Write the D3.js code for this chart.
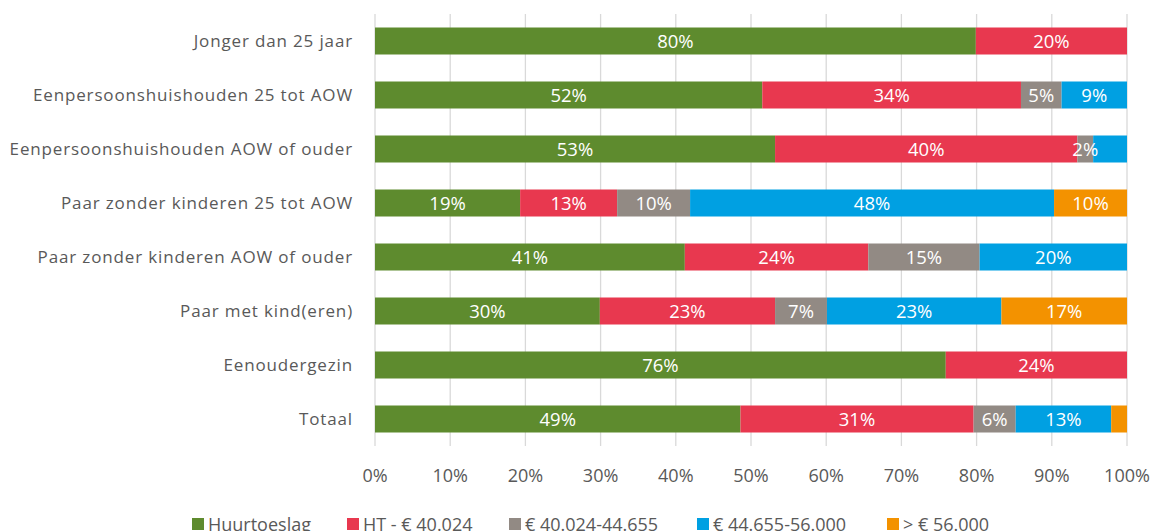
<!DOCTYPE html>
<html>
<head>
<meta charset="utf-8">
<script src="https://cdn.jsdelivr.net/npm/d3@7"></script>
<style>
  body { margin: 0; background: #fff; }
  text { font-family: "Open Sans", sans-serif; }
</style>
</head>
<body>
<div id="chart"></div>
<script>
"use strict";

// categories, top to bottom
var categories = [
  "Jonger dan 25 jaar",
  "Eenpersoonshuishouden 25 tot AOW",
  "Eenpersoonshuishouden AOW of ouder",
  "Paar zonder kinderen 25 tot AOW",
  "Paar zonder kinderen AOW of ouder",
  "Paar met kind(eren)",
  "Eenoudergezin",
  "Totaal"
];

// series names (legend)
var seriesNames = ["Huurtoeslag", "HT - \u20ac 40.024", "\u20ac 40.024-44.655", "\u20ac 44.655-56.000", "> \u20ac 56.000"];
var seriesColors = ["#5e8b2e", "#e8384f", "#928a84", "#00a0e2", "#f39200"];

// values per series in percent, one per category
var huurtoeslag = [79.9, 51.5, 53.2, 19.3, 41.2, 29.9, 75.9, 48.6];
var htTot40024  = [20.1, 34.4, 40.2, 12.9, 24.4, 23.3, 24.1, 31.0];
var tot44655    = [0,     5.4,  2.1,  9.7, 14.8,  6.9,  0,    5.6];
var tot56000    = [0,     8.7,  4.5, 48.4, 19.6, 23.2,  0,   12.7];
var boven56000  = [0,     0,    0,    9.7,  0,   16.7,  0,    2.1];

// segments whose label is not shown in the original: [category index, series index]
var hiddenLabels = [[2, 3], [7, 4]];

var xTicks = [0, 10, 20, 30, 40, 50, 60, 70, 80, 90, 100];

var width = 1151, height = 531;
var margin = { left: 375, right: 24, top: 14, bottom: 85 };

var svg = d3.select("#chart").append("svg")
  .attr("width", width)
  .attr("height", height);

var x = d3.scaleLinear().domain([0, 100]).range([margin.left, width - margin.right]);
var y = d3.scaleBand().domain(categories).range([margin.top, height - margin.bottom]).paddingInner(0.5).paddingOuter(0.25);

// gridlines
svg.append("g")
  .selectAll("line")
  .data(xTicks)
  .enter()
  .append("line")
  .attr("x1", function (d) { return x(d); })
  .attr("x2", function (d) { return x(d); })
  .attr("y1", margin.top)
  .attr("y2", height - margin.bottom)
  .attr("stroke", "#d9d9d9")
  .attr("stroke-width", 1.3);

// x tick labels
svg.append("g")
  .selectAll("text")
  .data(xTicks)
  .enter()
  .append("text")
  .attr("x", function (d) { return x(d); })
  .attr("y", height - margin.bottom + 36)
  .attr("text-anchor", "middle")
  .attr("font-size", 18)
  .attr("fill", "#595959")
  .text(function (d) { return d + "%"; });

// build stacked rows
var seriesValues = [huurtoeslag, htTot40024, tot44655, tot56000, boven56000];
var rows = categories.map(function (c, i) {
  var row = { category: c };
  seriesNames.forEach(function (s, j) { row[s] = seriesValues[j][i]; });
  return row;
});
var stack = d3.stack().keys(seriesNames)(rows);

function isHidden(ci, si) {
  return hiddenLabels.some(function (h) { return h[0] === ci && h[1] === si; });
}

var layers = svg.append("g")
  .selectAll("g")
  .data(stack)
  .enter()
  .append("g")
  .attr("fill", function (d, i) { return seriesColors[i]; });

layers.selectAll("rect")
  .data(function (d) { return d; })
  .enter()
  .append("rect")
  .attr("x", function (d) { return x(d[0]); })
  .attr("width", function (d) { return x(d[1]) - x(d[0]); })
  .attr("y", function (d) { return y(d.data.category); })
  .attr("height", y.bandwidth());

// segment labels
stack.forEach(function (layer, si) {
  svg.append("g")
    .selectAll("text")
    .data(layer.filter(function (d, ci) { return d[1] - d[0] > 0 && !isHidden(ci, si); }))
    .enter()
    .append("text")
    .attr("x", function (d) { return (x(d[0]) + x(d[1])) / 2; })
    .attr("y", function (d) { return y(d.data.category) + y.bandwidth() / 2; })
    .attr("dy", "0.38em")
    .attr("text-anchor", "middle")
    .attr("font-size", 18.5)
    .attr("fill", "#fff")
    .text(function (d) { return Math.round(d[1] - d[0]) + "%"; });
});

// category labels
svg.append("g")
  .selectAll("text")
  .data(categories)
  .enter()
  .append("text")
  .attr("x", margin.left - 22)
  .attr("y", function (d) { return y(d) + y.bandwidth() / 2; })
  .attr("dy", "0.34em")
  .attr("text-anchor", "end")
  .attr("font-size", 17)
  .attr("letter-spacing", "0.85px")
  .attr("fill", "#595959")
  .text(function (d) { return d; });

// legend
var legendX = [192, 347, 509, 697, 887];
var legend = svg.append("g")
  .selectAll("g")
  .data(seriesNames)
  .enter()
  .append("g")
  .attr("transform", function (d, i) { return "translate(" + legendX[i] + ",518)"; });

legend.append("rect")
  .attr("width", 12)
  .attr("height", 12)
  .attr("fill", function (d, i) { return seriesColors[i]; });

legend.append("text")
  .attr("x", 16)
  .attr("y", 13)
  .attr("font-size", 18)
  .attr("fill", "#595959")
  .text(function (d) { return d; });
</script>
</body>
</html>
